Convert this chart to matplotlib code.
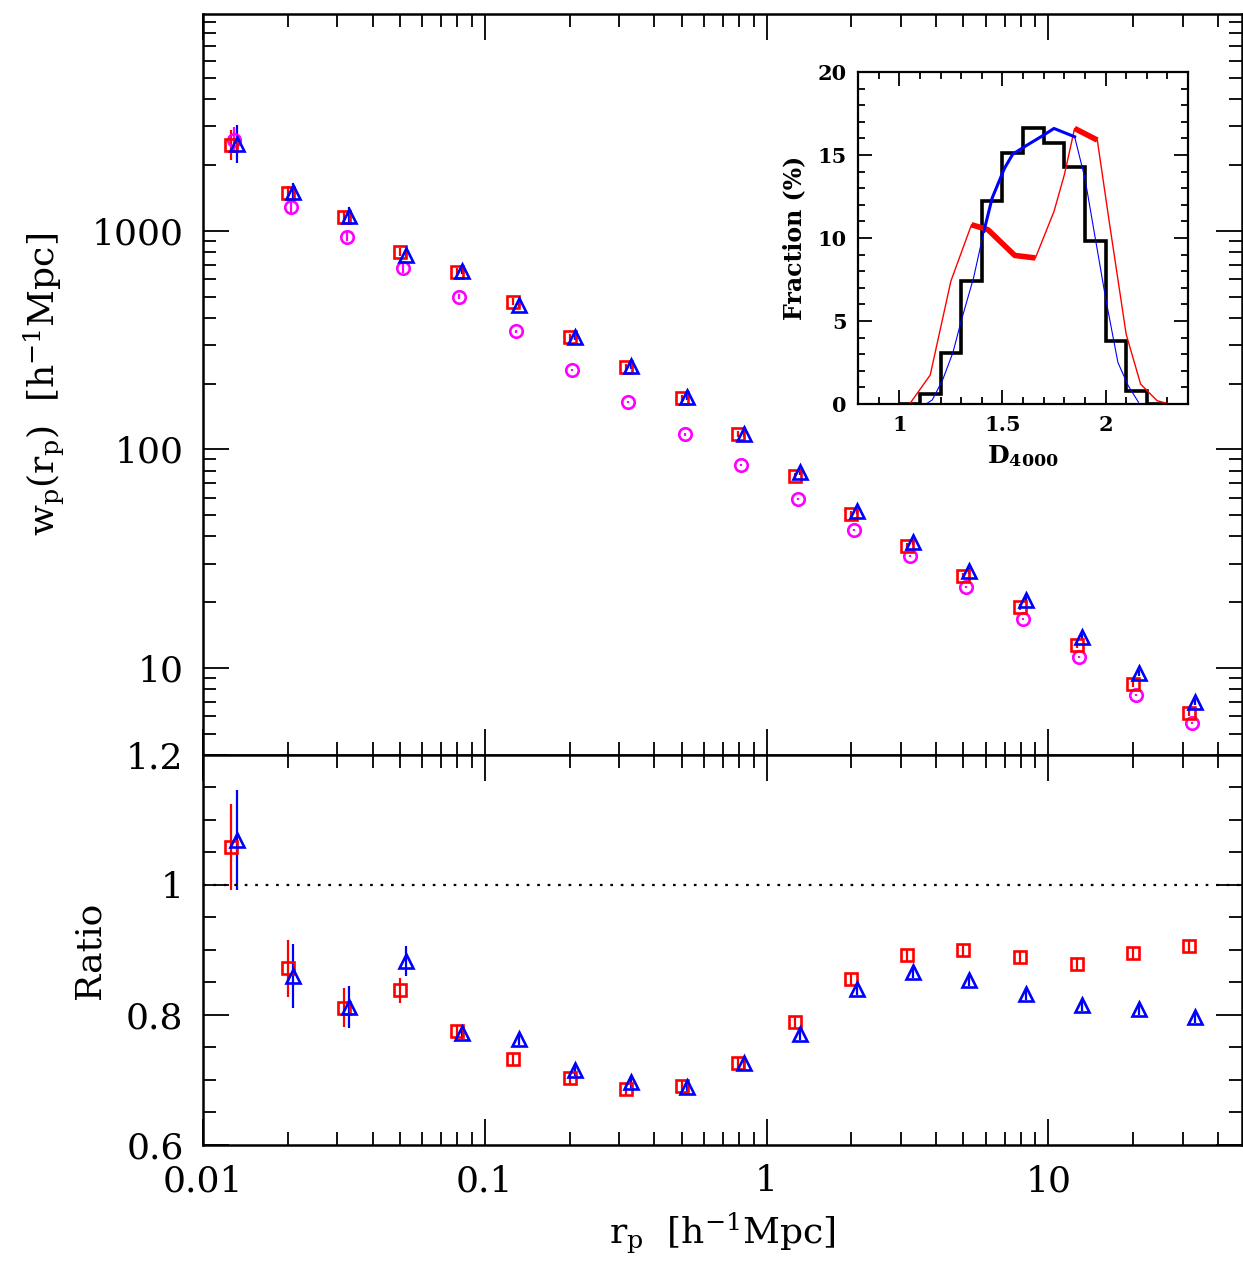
import numpy as np
import matplotlib
matplotlib.use("Agg")
import matplotlib.pyplot as plt
from matplotlib.ticker import MultipleLocator, FuncFormatter, NullFormatter

plt.rcParams["font.family"] = ["DejaVu Serif"]
plt.rcParams["mathtext.fontset"] = "dejavuserif"

# projected separation bins
rp = np.array([0.0126, 0.02, 0.0316, 0.05, 0.0794, 0.126, 0.2, 0.316, 0.5,
               0.794, 1.26, 2.0, 3.16, 5.0, 7.94, 12.6, 20.0, 31.6])

# w_p(r_p) for the three samples
wp_red = np.array([2470, 1491, 1158, 802, 650, 474, 325, 239, 171,
                   117, 75.3, 50.5, 36.1, 26.3, 19.0, 12.7, 8.45, 6.23])
wp_blue = np.array([2497, 1507, 1165, 777, 655, 459, 328, 241, 173,
                    118, 78.5, 52.1, 37.6, 27.7, 20.5, 13.9, 9.48, 7.0])
wp_mag = np.array([2603, 1287, 939, 678, 500, 346, 230, 164, 117,
                   84.5, 59.1, 42.7, 32.4, 23.4, 16.7, 11.2, 7.53, 5.61])

# errors in dex
err_red = np.array([0.068, 0.030, 0.022, 0.018, 0.016, 0.015, 0.014, 0.014, 0.014,
                    0.014, 0.014, 0.014, 0.014, 0.014, 0.014, 0.014, 0.014, 0.014])
err_blue = np.array([0.087, 0.040, 0.040, 0.022, 0.016, 0.015, 0.014, 0.014, 0.014,
                     0.014, 0.014, 0.014, 0.014, 0.014, 0.014, 0.014, 0.014, 0.014])
err_mag = np.array([0.060, 0.034, 0.020, 0.025, 0.010, 0.006, 0.005, 0.005, 0.005,
                    0.005, 0.005, 0.005, 0.005, 0.005, 0.005, 0.005, 0.005, 0.005])

# ratios
ratio_red = np.array([1.058, 0.872, 0.811, 0.838, 0.775, 0.732, 0.703, 0.686, 0.691,
                      0.726, 0.789, 0.855, 0.892, 0.900, 0.889, 0.878, 0.895, 0.906])
ratio_blue = np.array([1.069, 0.860, 0.812, 0.883, 0.772, 0.763, 0.715, 0.697, 0.689,
                       0.726, 0.771, 0.840, 0.866, 0.854, 0.832, 0.815, 0.809, 0.797])
rerr_red = np.array([0.066, 0.044, 0.030, 0.019, 0.009, 0.009, 0.009, 0.009, 0.009,
                     0.009, 0.009, 0.009, 0.009, 0.009, 0.009, 0.009, 0.009, 0.009])
rerr_blue = np.array([0.077, 0.049, 0.032, 0.023, 0.009, 0.009, 0.009, 0.009, 0.009,
                      0.009, 0.009, 0.009, 0.009, 0.009, 0.009, 0.009, 0.009, 0.009])

# inset: D4000 distributions
hist_edges = np.round(np.arange(1.0, 2.31, 0.1), 2)
hist_vals = np.array([0, 0.6, 3.1, 7.4, 12.2, 15.1, 16.6, 15.7, 14.3, 9.8, 3.8, 0.8, 0])
blue_x = np.array([1.13, 1.16, 1.21, 1.26, 1.30, 1.36, 1.41, 1.45, 1.51, 1.55, 1.62,
                   1.70, 1.75, 1.85, 1.90, 1.95, 2.00, 2.06, 2.11, 2.16])
blue_y = np.array([0, 0.25, 1.45, 3.1, 5.0, 7.6, 10.4, 12.4, 14.2, 15.05, 15.6,
                   16.2, 16.6, 16.1, 13.6, 10.0, 6.4, 2.5, 1.1, 0.1])
red_x = np.array([1.05, 1.15, 1.25, 1.35, 1.43, 1.56, 1.66, 1.75, 1.80, 1.85, 1.96,
                  2.02, 2.10, 2.17, 2.25, 2.31])
red_y = np.array([0, 1.75, 7.4, 10.8, 10.5, 8.95, 8.8, 11.6, 13.8, 16.6, 15.9,
                  10.8, 4.2, 1.2, 0.2, 0])

RED, BLUE, MAG = "#ff0000", "#0000ff", "#ff00ff"


def dex_err(w, e):
    return [w * (1 - 10 ** -e), w * (10 ** e - 1)]


def style_axes(ax, big=19, small=9.5, lw=1.8, pad=14):
    for s in ax.spines.values():
        s.set_linewidth(lw)
    ax.tick_params(which="both", direction="in", top=True, right=True, width=1.3)
    ax.tick_params(which="major", length=big, pad=pad)
    ax.tick_params(which="minor", length=small)


fig = plt.figure(figsize=(12.43, 12.61), dpi=100)
ax1 = fig.add_axes([0.1633, 0.4013, 0.8359, 0.5876])
ax2 = fig.add_axes([0.1633, 0.0920, 0.8359, 0.3093])

# top panel
mk = dict(mfc="none", mew=1.9, capsize=0, elinewidth=1.6, ls="none")
ax1.errorbar(rp * 10 ** 0.01, wp_mag, yerr=dex_err(wp_mag, err_mag), fmt="o",
             color=MAG, ms=9, **mk)
ax1.errorbar(rp, wp_red, yerr=dex_err(wp_red, err_red), fmt="s",
             color=RED, ms=9, **mk)
ax1.errorbar(rp * 10 ** 0.02, wp_blue, yerr=dex_err(wp_blue, err_blue), fmt="^",
             color=BLUE, ms=10.5, **mk)
ax1.set_xscale("log")
ax1.set_yscale("log")
ax1.set_xlim(0.01, 48.7)
ax1.set_ylim(4, 9800)
ax1.yaxis.set_major_formatter(FuncFormatter(lambda v, p: f"{v:g}"))
ax1.yaxis.set_minor_formatter(NullFormatter())
ax1.tick_params(labelbottom=False)
style_axes(ax1)
ax1.tick_params(axis="y", labelsize=26)
ax1.set_ylabel(r"$\mathrm{w_p(r_p)\ \ [h^{-1}Mpc]}$", fontsize=26, labelpad=18)

# ratio panel
ax2.errorbar(rp, ratio_red, yerr=rerr_red, fmt="s", color=RED, ms=9, **mk)
ax2.errorbar(rp * 10 ** 0.02, ratio_blue, yerr=rerr_blue, fmt="^", color=BLUE, ms=10.5, **mk)
ax2.axhline(1.0, color="k", ls=(0, (1.2, 3.5)), lw=1.6)
ax2.set_xscale("log")
ax2.set_xlim(0.01, 48.7)
ax2.set_ylim(0.6, 1.2)
ax2.yaxis.set_major_locator(MultipleLocator(0.2))
ax2.yaxis.set_minor_locator(MultipleLocator(0.05))
ax2.yaxis.set_major_formatter(FuncFormatter(lambda v, p: f"{v:g}"))
ax2.xaxis.set_major_formatter(FuncFormatter(lambda v, p: f"{v:g}"))
ax2.xaxis.set_minor_formatter(NullFormatter())
style_axes(ax2)
ax2.tick_params(labelsize=26)
ax2.set_ylabel("Ratio", fontsize=26, labelpad=14)
ax2.set_xlabel(r"$\mathrm{r_p\ \ [h^{-1}Mpc]}$", fontsize=26, labelpad=8)

# inset
ax3 = fig.add_axes([0.6903, 0.6796, 0.2655, 0.2633])
ax3.stairs(hist_vals, hist_edges, color="black", lw=2.6)
ax3.plot(red_x, red_y, color=RED, lw=1.0)
ax3.plot(red_x[3:7], red_y[3:7], color=RED, lw=4.0, solid_capstyle="butt")
ax3.plot(red_x[9:11], red_y[9:11], color=RED, lw=4.0, solid_capstyle="butt")
ax3.plot(blue_x, blue_y, color=BLUE, lw=0.8)
ax3.plot(blue_x[6:14], blue_y[6:14], color=BLUE, lw=2.2)
ax3.set_xlim(0.8, 2.4)
ax3.set_ylim(0, 20)
ax3.xaxis.set_major_locator(MultipleLocator(0.5))
ax3.xaxis.set_minor_locator(MultipleLocator(0.1))
ax3.yaxis.set_major_locator(MultipleLocator(5))
ax3.yaxis.set_minor_locator(MultipleLocator(1))
ax3.xaxis.set_major_formatter(FuncFormatter(lambda v, p: f"{v:g}"))
style_axes(ax3, big=10, small=5, lw=1.6, pad=8)
ax3.tick_params(labelsize=15)
for lab in ax3.get_xticklabels() + ax3.get_yticklabels():
    lab.set_fontweight("bold")
ax3.set_ylabel("Fraction (%)", fontsize=17, fontweight="bold", labelpad=8)
ax3.set_xlabel(r"$\mathbf{D_{4000}}$", fontsize=18, labelpad=6)

fig.savefig("out.png", dpi=100)
